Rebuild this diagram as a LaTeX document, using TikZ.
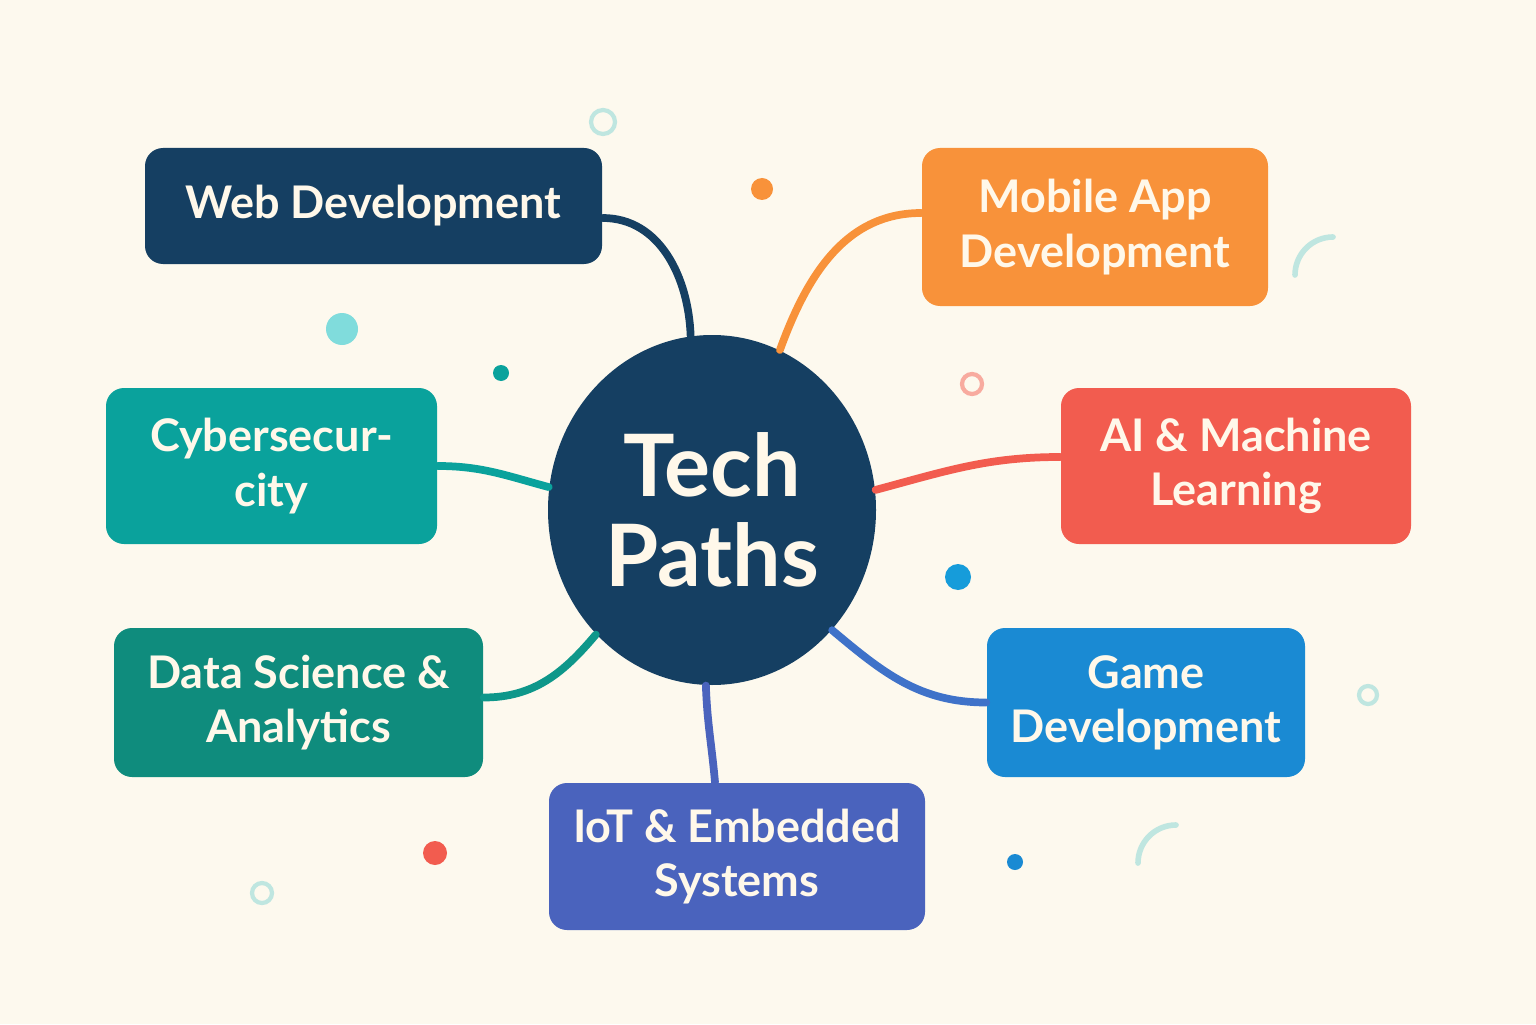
\documentclass[tikz,border=0pt]{standalone}
\usepackage{fontspec}
\setmainfont{Lato}
\usetikzlibrary{shapes,positioning,calc}

\definecolor{paper}{HTML}{FDF9EE}
\definecolor{navy}{HTML}{153F62}
\definecolor{orangeapp}{HTML}{F8923A}
\definecolor{tealsec}{HTML}{0AA29C}
\definecolor{redai}{HTML}{F25C4F}
\definecolor{greendata}{HTML}{0F8C7D}
\definecolor{bluegame}{HTML}{1A8AD3}
\definecolor{indigoiot}{HTML}{4A63BD}
\definecolor{bluelink}{HTML}{3F72C9}
\definecolor{cream}{HTML}{FFF8EA}
\definecolor{mint}{HTML}{BFE6E0}
\definecolor{aqua}{HTML}{80DCDC}

\begin{document}
\begin{tikzpicture}[node distance=3cm,
    path box/.style={rectangle, rounded corners=0.18cm, text=cream, align=center,
        font=\fontsize{12.8}{15.4}\selectfont\bfseries, inner sep=0pt},
    link/.style={line width=2.2pt, line cap=round}]
    \fill[paper] (0,0) rectangle (15.36,10.24);
    \useasboundingbox (0,0) rectangle (15.36,10.24);

    \node (hub) [ellipse, fill=navy, inner sep=0pt, minimum width=3.28cm, minimum height=3.5cm, text=cream,
        font=\fontsize{24.5}{25.6}\selectfont\bfseries, align=center] at (7.12,5.14) {Tech\\Paths};
    \node (web) [path box, fill=navy, left of=hub, xshift=-0.385cm, yshift=3.04cm, minimum width=4.57cm, minimum height=1.16cm] {Web Development};
    \node (mobile) [path box, fill=orangeapp, right of=hub, xshift=0.83cm, yshift=2.83cm, minimum width=3.46cm, minimum height=1.58cm] {Mobile App\\Development};
    \node (cyber) [path box, fill=tealsec, left of=hub, xshift=-1.405cm, yshift=0.44cm, minimum width=3.31cm, minimum height=1.56cm] {Cybersecur-\\city};
    \node (ai) [path box, fill=redai, right of=hub, xshift=2.24cm, yshift=0.44cm, minimum width=3.5cm, minimum height=1.56cm] {AI \& Machine\\Learning};
    \node (data) [path box, fill=greendata, left of=hub, xshift=-1.135cm, yshift=-1.925cm, minimum width=3.69cm, minimum height=1.49cm] {Data Science \&\\Analytics};
    \node (game) [path box, fill=bluegame, right of=hub, xshift=1.34cm, yshift=-1.925cm, minimum width=3.18cm, minimum height=1.49cm] {Game\\Development};
    \node (iot) [path box, fill=indigoiot, below of=hub, xshift=0.25cm, yshift=-0.465cm, minimum width=3.76cm, minimum height=1.47cm] {IoT \& Embedded\\Systems};

    % branches
    \draw [link, navy] ([yshift=-0.12cm]web.east) to[out=0, in=92] (hub.97);
    \draw [link, orangeapp] ([yshift=0.14cm]mobile.west) to[out=180, in=70] (hub.67);
    \draw [link, tealsec] (cyber.east) to[out=0, in=165] (hub.172);
    \draw [link, redai] ([yshift=0.09cm]ai.west) to[out=180, in=15] (hub.7);
    \draw [link, greendata!90!cyan] ([yshift=0.05cm]data.east) to[out=0, in=230] (hub.227);
    \draw [link, bluelink] (game.west) to[out=180, in=-40] (hub.-45);
    \draw [link, indigoiot] (hub.268) to[out=-88, in=95] ([xshift=-0.22cm]iot.north);

    % confetti
    \draw [mint, line width=1.2pt] (6.03,9.02) circle (0.12);
    \fill [orangeapp] (7.62,8.35) circle (0.11);
    \fill [aqua] (3.42,6.95) circle (0.16);
    \fill [tealsec] (5.01,6.51) circle (0.08);
    \draw [redai!50!paper, line width=1.2pt] (9.72,6.40) circle (0.10);
    \fill [bluegame!85!cyan] (9.58,4.47) circle (0.13);
    \draw [mint, line width=1.2pt] (13.68,3.29) circle (0.09);
    \fill [redai] (4.35,1.71) circle (0.12);
    \draw [mint, line width=1.2pt] (2.62,1.31) circle (0.10);
    \fill [bluegame] (10.15,1.62) circle (0.08);
    \draw [mint, line width=1.6pt, line cap=round] (12.95,7.49) arc (180:90:0.38);
    \draw [mint, line width=1.6pt, line cap=round] (11.38,1.61) arc (180:90:0.38);
\end{tikzpicture}
\end{document}
